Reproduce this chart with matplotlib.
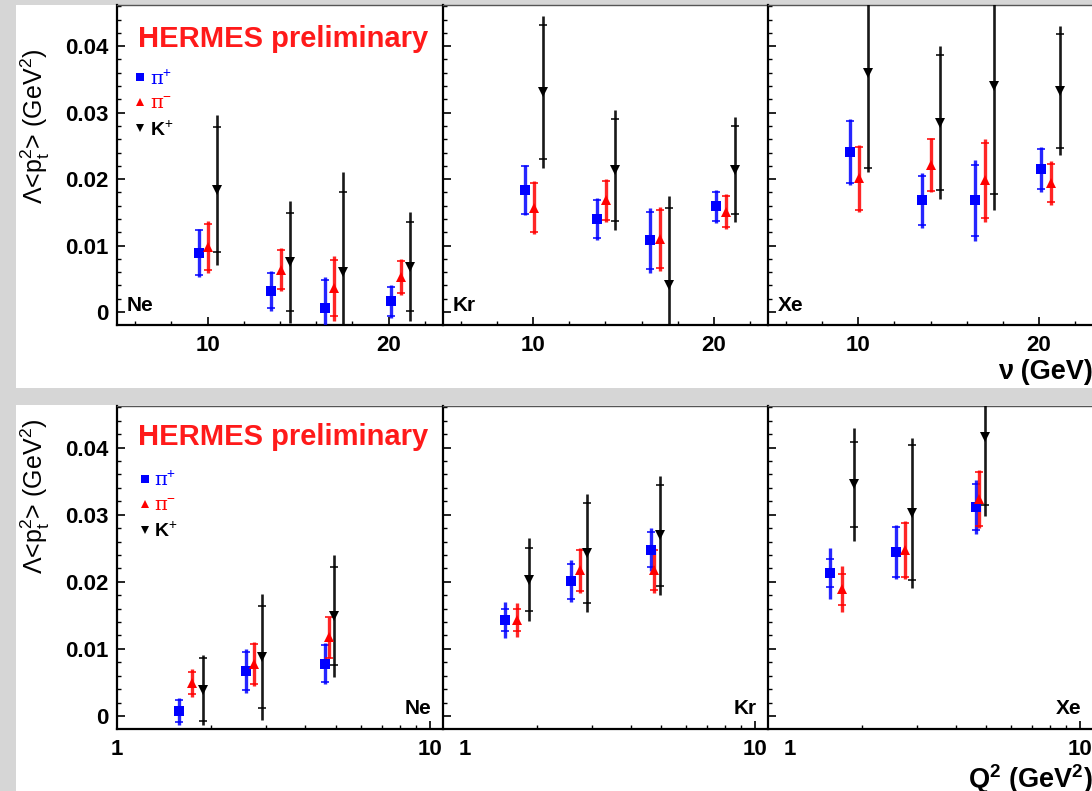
import matplotlib
matplotlib.use("Agg")
import matplotlib.pyplot as plt
from matplotlib.patches import Rectangle
from matplotlib.lines import Line2D
from matplotlib.ticker import MultipleLocator, FixedLocator, LogLocator, NullFormatter, FuncFormatter
import numpy as np

plt.rcParams['font.family'] = ['Liberation Sans', 'DejaVu Sans']
plt.rcParams['mathtext.fontset'] = 'custom'
plt.rcParams['mathtext.rm'] = 'Liberation Sans'
plt.rcParams['mathtext.it'] = 'Liberation Sans:italic'
plt.rcParams['mathtext.bf'] = 'Liberation Sans:bold'

# ---------------- data ----------------
nuclei = ["Ne", "Kr", "Xe"]
species = ["pip", "pim", "kp"]

# nu dependence (top row)
nu_x_pip = [9.52, 13.52, 16.47, 20.11]
nu_x_pim = [10.03, 14.03, 17.00, 20.66]
nu_x_kp = [10.52, 14.55, 17.50, 21.16]

nu_Ne_pip = [0.0089, 0.0032, 0.0006, 0.0016]
nu_Ne_pip_stat = [0.0034, 0.0026, 0.0042, 0.0022]
nu_Ne_pip_tot = [0.0036, 0.0030, 0.0047, 0.0025]
nu_Ne_pim = [0.0098, 0.0064, 0.0036, 0.0053]
nu_Ne_pim_stat = [0.0035, 0.0029, 0.0042, 0.0024]
nu_Ne_pim_tot = [0.0039, 0.0033, 0.0049, 0.0027]
nu_Ne_kp = [0.0184, 0.0075, 0.0060, 0.0068]
nu_Ne_kp_stat = [0.0094, 0.0074, 0.0120, 0.0067]
nu_Ne_kp_tot = [0.0113, 0.0092, 0.0151, 0.0082]

nu_Kr_pip = [0.0184, 0.0140, 0.0108, 0.0159]
nu_Kr_pip_stat = [0.0036, 0.0029, 0.0043, 0.0022]
nu_Kr_pip_tot = [0.0038, 0.0032, 0.0049, 0.0025]
nu_Kr_pim = [0.0157, 0.0168, 0.0110, 0.0151]
nu_Kr_pim_stat = [0.0037, 0.0029, 0.0044, 0.0023]
nu_Kr_pim_tot = [0.0040, 0.0032, 0.0048, 0.0026]
nu_Kr_kp = [0.0331, 0.0214, 0.0041, 0.0214]
nu_Kr_kp_stat = [0.0101, 0.0077, 0.0116, 0.0066]
nu_Kr_kp_tot = [0.0114, 0.0090, 0.0133, 0.0079]

nu_Xe_pip = [0.0241, 0.0168, 0.0168, 0.0215]
nu_Xe_pip_stat = [0.0047, 0.0037, 0.0053, 0.0030]
nu_Xe_pip_tot = [0.0050, 0.0041, 0.0061, 0.0034]
nu_Xe_pim = [0.0201, 0.0221, 0.0198, 0.0194]
nu_Xe_pim_stat = [0.0047, 0.0039, 0.0057, 0.0029]
nu_Xe_pim_tot = [0.0050, 0.0041, 0.0062, 0.0033]
nu_Xe_kp = [0.0360, 0.0285, 0.0340, 0.0333]
nu_Xe_kp_stat = [0.0144, 0.0102, 0.0162, 0.0086]
nu_Xe_kp_tot = [0.0150, 0.0115, 0.0186, 0.0097]

# Q2 dependence (bottom row)
q2_x_pip = [1.58, 2.58, 4.63]
q2_x_pim = [1.73, 2.74, 4.76]
q2_x_kp = [1.88, 2.90, 4.95]

q2_Ne_pip = [0.0007, 0.0067, 0.0078]
q2_Ne_pip_stat = [0.0016, 0.0028, 0.0027]
q2_Ne_pip_tot = [0.0020, 0.0033, 0.0030]
q2_Ne_pim = [0.0049, 0.0077, 0.0117]
q2_Ne_pim_stat = [0.0017, 0.0030, 0.0030]
q2_Ne_pim_tot = [0.0021, 0.0033, 0.0031]
q2_Ne_kp = [0.0039, 0.0088, 0.0149]
q2_Ne_kp_stat = [0.0047, 0.0076, 0.0073]
q2_Ne_kp_tot = [0.0052, 0.0094, 0.0091]

q2_Kr_pip = [0.0143, 0.0201, 0.0248]
q2_Kr_pip_stat = [0.0017, 0.0026, 0.0026]
q2_Kr_pip_tot = [0.0027, 0.0031, 0.0032]
q2_Kr_pim = [0.0143, 0.0217, 0.0217]
q2_Kr_pim_stat = [0.0017, 0.0031, 0.0030]
q2_Kr_pim_tot = [0.0025, 0.0034, 0.0034]
q2_Kr_kp = [0.0203, 0.0243, 0.0269]
q2_Kr_kp_stat = [0.0047, 0.0075, 0.0075]
q2_Kr_kp_tot = [0.0062, 0.0088, 0.0088]

q2_Xe_pip = [0.0213, 0.0244, 0.0311]
q2_Xe_pip_stat = [0.0021, 0.0037, 0.0034]
q2_Xe_pip_tot = [0.0038, 0.0040, 0.0040]
q2_Xe_pim = [0.0189, 0.0247, 0.0323]
q2_Xe_pim_stat = [0.0023, 0.0040, 0.0040]
q2_Xe_pim_tot = [0.0034, 0.0043, 0.0043]
q2_Xe_kp = [0.0345, 0.0303, 0.0416]
q2_Xe_kp_stat = [0.0063, 0.0101, 0.0102]
q2_Xe_kp_tot = [0.0084, 0.0112, 0.0118]

legend_labels = ["π$^{+}$", "π$^{-}$", "K$^{+}$"]
y_ticks = [0.0, 0.01, 0.02, 0.03, 0.04]
nu_ticks = [10, 20]
q2_ticks = [1, 10]

NU = {
    "Ne": [(nu_Ne_pip, nu_Ne_pip_stat, nu_Ne_pip_tot), (nu_Ne_pim, nu_Ne_pim_stat, nu_Ne_pim_tot), (nu_Ne_kp, nu_Ne_kp_stat, nu_Ne_kp_tot)],
    "Kr": [(nu_Kr_pip, nu_Kr_pip_stat, nu_Kr_pip_tot), (nu_Kr_pim, nu_Kr_pim_stat, nu_Kr_pim_tot), (nu_Kr_kp, nu_Kr_kp_stat, nu_Kr_kp_tot)],
    "Xe": [(nu_Xe_pip, nu_Xe_pip_stat, nu_Xe_pip_tot), (nu_Xe_pim, nu_Xe_pim_stat, nu_Xe_pim_tot), (nu_Xe_kp, nu_Xe_kp_stat, nu_Xe_kp_tot)],
}
Q2 = {
    "Ne": [(q2_Ne_pip, q2_Ne_pip_stat, q2_Ne_pip_tot), (q2_Ne_pim, q2_Ne_pim_stat, q2_Ne_pim_tot), (q2_Ne_kp, q2_Ne_kp_stat, q2_Ne_kp_tot)],
    "Kr": [(q2_Kr_pip, q2_Kr_pip_stat, q2_Kr_pip_tot), (q2_Kr_pim, q2_Kr_pim_stat, q2_Kr_pim_tot), (q2_Kr_kp, q2_Kr_kp_stat, q2_Kr_kp_tot)],
    "Xe": [(q2_Xe_pip, q2_Xe_pip_stat, q2_Xe_pip_tot), (q2_Xe_pim, q2_Xe_pim_stat, q2_Xe_pim_tot), (q2_Xe_kp, q2_Xe_kp_stat, q2_Xe_kp_tot)],
}
NU_X = [nu_x_pip, nu_x_pim, nu_x_kp]
Q2_X = [q2_x_pip, q2_x_pim, q2_x_kp]

# ---------------- style ----------------
colors = ["#0000ff", "#ff0000", "#000000"]
markers = ["s", "^", "v"]
msizes = [7.8, 7.8, 7.8]
elw = [2.4, 2.4, 1.9]

W, H = 1092, 791
fig = plt.figure(figsize=(W / 100, H / 100), dpi=100, facecolor="#d6d6d6")

# white canvas areas for the two rows
fig.patches.append(Rectangle((16 / W, 1 - 388 / H), 1, 383 / H, transform=fig.transFigure,
                             facecolor="white", edgecolor="none", zorder=-5))
fig.patches.append(Rectangle((16 / W, 0), 1, 386 / H, transform=fig.transFigure,
                             facecolor="white", edgecolor="none", zorder=-5))


def axpos(l, r, t, b):
    return [l / W, 1 - b / H, (r - l) / W, (b - t) / H]


cols = [(117, 443), (443, 768), (768, 1093)]
YLIM = (-0.00195, 0.0462)


def style_axes(ax, first):
    for s in ax.spines.values():
        s.set_linewidth(1.6)
    ax.spines["top"].set_linewidth(1.0)
    ax.spines["top"].set_color("#555555")
    ax.spines["right"].set_visible(False)
    ax.set_ylim(*YLIM)
    ax.yaxis.set_major_locator(FixedLocator(y_ticks))
    ax.yaxis.set_minor_locator(MultipleLocator(0.002))
    ax.tick_params(axis="both", which="major", direction="in", length=6, width=1.2,
                   labelsize=16, top=False, right=False)
    ax.tick_params(axis="both", which="minor", direction="in", length=3, width=1.0,
                   top=False, right=False)
    ax.tick_params(axis="y", pad=6)
    ax.tick_params(axis="x", pad=7)
    if first:
        ax.yaxis.set_major_formatter(FuncFormatter(lambda v, p: "0" if abs(v) < 1e-9 else "%.2f" % v))
        for lab in ax.get_yticklabels():
            lab.set_fontweight("bold")
    else:
        ax.tick_params(axis="y", labelleft=False)
    ax.set_facecolor("white")


def draw(ax, xs, data):
    for i in range(3):
        y, st, tot = data[i]
        x = xs[i]
        ax.errorbar(x, y, yerr=tot, fmt="none", ecolor=colors[i], elinewidth=elw[i],
                    capsize=0, alpha=0.85 if i < 2 else 0.9, zorder=3)
        ax.errorbar(x, y, yerr=st, fmt="none", ecolor=colors[i], elinewidth=0,
                    capsize=3.2, capthick=1.1, zorder=3)
        ax.plot(x, y, ls="none", marker=markers[i], color=colors[i], markersize=msizes[i],
                markeredgewidth=0, zorder=4)


def add_legend(ax, anchor):
    handles = [Line2D([], [], ls="none", marker=markers[i], color=colors[i],
                      markersize=6, markeredgewidth=0) for i in range(3)]
    leg = ax.legend(handles, legend_labels, loc="upper left", bbox_to_anchor=anchor,
                    frameon=False, handlelength=0.5, handletextpad=0.25,
                    labelspacing=0.35, borderaxespad=0, borderpad=0,
                    prop={"size": 14, "weight": "bold"}, labelcolor=colors)
    for t in leg.get_texts()[:2]:
        t.set_fontfamily(["DejaVu Serif"])
        t.set_fontweight("normal")


def hermes(ax, y):
    ax.text(0.065, y, "HERMES preliminary", transform=ax.transAxes, color="#ff1a1a",
            fontsize=21, fontweight="bold", ha="left", va="center")


YLABEL = r"Λ<p$_\mathregular{t}^\mathregular{2}$> (GeV$^\mathregular{2}$)"

# ---- top row: nu ----
top_axes = []
for j, nuc in enumerate(nuclei):
    ax = fig.add_axes(axpos(cols[j][0], cols[j][1], 5, 325))
    style_axes(ax, j == 0)
    ax.set_xlim(5, 23)
    ax.xaxis.set_major_locator(FixedLocator(nu_ticks))
    ax.xaxis.set_minor_locator(MultipleLocator(2))
    ax.set_xticklabels([str(v) for v in nu_ticks], fontweight="bold")
    draw(ax, NU_X, NU[nuc])
    ax.text(0.03, 0.03, nuc, transform=ax.transAxes, fontsize=15, fontweight="bold",
            ha="left", va="bottom")
    top_axes.append(ax)

hermes(top_axes[0], 0.895)
add_legend(top_axes[0], (0.055, 0.80))
top_axes[0].set_ylabel(YLABEL, fontsize=18)
top_axes[0].yaxis.set_label_coords(-0.2, 0.62)
top_axes[2].text(1.0, -0.147, "ν (GeV)", transform=top_axes[2].transAxes, fontsize=19.5,
                 fontweight="bold", ha="right", va="center")

# ---- bottom row: Q2 ----
bot_axes = []
for j, nuc in enumerate(nuclei):
    ax = fig.add_axes(axpos(cols[j][0], cols[j][1], 406, 729))
    style_axes(ax, j == 0)
    ax.set_xscale("log")
    ax.set_xlim(1, 11)
    ax.xaxis.set_major_locator(FixedLocator(q2_ticks))
    ax.xaxis.set_minor_locator(LogLocator(base=10, subs=np.arange(2, 10)))
    ax.xaxis.set_minor_formatter(NullFormatter())
    if j == 0:
        ax.set_xticklabels([str(v) for v in q2_ticks], fontweight="bold")
    else:
        ax.set_xticklabels(["", str(q2_ticks[1])], fontweight="bold")
        ax.text(1.175, -0.062, str(q2_ticks[0]), transform=ax.get_xaxis_transform(),
                fontsize=16, fontweight="bold", ha="center", va="center")
    draw(ax, Q2_X, Q2[nuc])
    ax.text(0.965, 0.035, nuc, transform=ax.transAxes, fontsize=15, fontweight="bold",
            ha="right", va="bottom")
    bot_axes.append(ax)

hermes(bot_axes[0], 0.905)
add_legend(bot_axes[0], (0.07, 0.80))
bot_axes[0].set_ylabel(YLABEL, fontsize=18)
bot_axes[0].yaxis.set_label_coords(-0.2, 0.72)
bot_axes[2].text(1.0, -0.155, r"Q$^\mathregular{2}$ (GeV$^\mathregular{2}$)",
                 transform=bot_axes[2].transAxes, fontsize=19.5, fontweight="bold",
                 ha="right", va="center")

fig.savefig("out.png", dpi=100, facecolor=fig.get_facecolor())
